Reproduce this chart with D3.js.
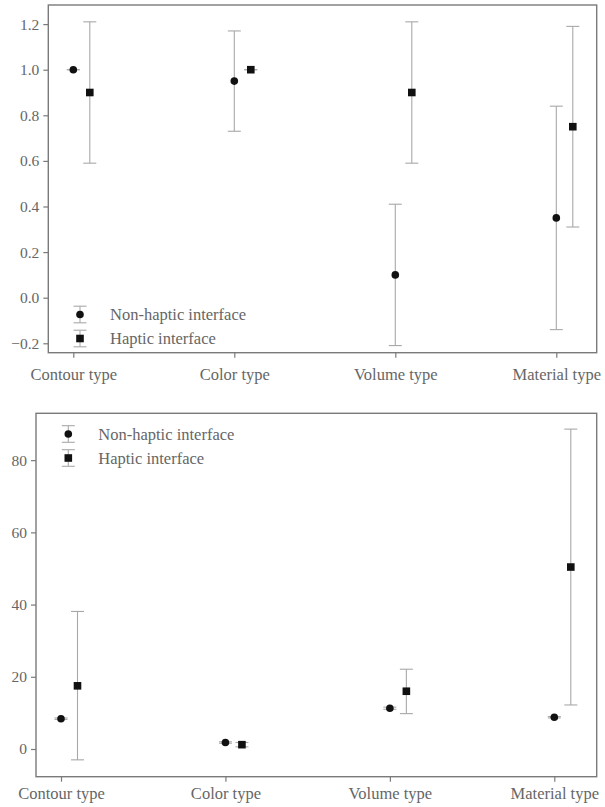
<!DOCTYPE html>
<html>
<head>
<meta charset="utf-8">
<script src="https://cdn.jsdelivr.net/npm/d3@7"></script>
<style>
  body { margin: 0; background: #fff; }
  svg text { font-family: "Liberation Serif", "Times New Roman", "DejaVu Serif", serif; fill: #666; }
</style>
</head>
<body>
<svg id="chart" width="605" height="807"></svg>
<script>
// categories shared by both panels
const categories = ["Contour type", "Color type", "Volume type", "Material type"];
const seriesNames = ["Non-haptic interface", "Haptic interface"];

// top panel: mean, lower, upper
const topNonHaptic = [1.0, 0.95, 0.10, 0.35];
const topNonHapticLow = [1.0, 0.73, -0.21, -0.14];
const topNonHapticHigh = [1.0, 1.17, 0.41, 0.84];
const topHaptic = [0.90, 1.0, 0.90, 0.75];
const topHapticLow = [0.59, 1.0, 0.59, 0.31];
const topHapticHigh = [1.21, 1.0, 1.21, 1.19];
const topTicks = [-0.2, 0.0, 0.2, 0.4, 0.6, 0.8, 1.0, 1.2];

// bottom panel
const botNonHaptic = [8.4, 1.8, 11.3, 8.8];
const botNonHapticLow = [8.2, 1.6, 11.0, 8.6];
const botNonHapticHigh = [8.6, 2.0, 11.6, 9.0];
const botHaptic = [17.5, 1.2, 16.0, 50.4];
const botHapticLow = [-3.0, 0.6, 9.8, 12.2];
const botHapticHigh = [38.1, 1.8, 22.1, 88.6];
const botTicks = [0, 20, 40, 60, 80];

const svg = d3.select("#chart");
const barColor = "#a8a8a8";
const frameColor = "#7a7a7a";
const serif = "'Liberation Serif', 'Times New Roman', serif";

function drawPanel(p) {
    const g = svg.append("g");
    const x = d3.scalePoint().domain(categories).range([p.x0, p.x1]);
    const y = d3.scaleLinear().domain(p.yDomain).range([p.bottom, p.top]);

    // frame
    g.append("rect")
        .attr("x", p.left).attr("y", p.top)
        .attr("width", p.right - p.left).attr("height", p.bottom - p.top)
        .attr("fill", "none").attr("stroke", frameColor).attr("stroke-width", 1.4);

    // y axis
    const yAxis = g.append("g").attr("transform", "translate(" + p.left + ",0)")
        .call(d3.axisLeft(y).tickValues(p.ticks).tickSize(5).tickPadding(4)
            .tickFormat(p.fmt));
    yAxis.attr("font-family", null).attr("font-size", null);
    yAxis.select(".domain").remove();
    yAxis.selectAll("line").attr("stroke", frameColor).attr("stroke-width", 1.2);
    yAxis.selectAll("text").style("font-size", "15.5px").attr("fill", "#6a6a6a")
        .style("font-family", serif);

    // x axis
    const xAxis = g.append("g").attr("transform", "translate(0," + p.bottom + ")")
        .call(d3.axisBottom(x).tickSize(5).tickPadding(p.xPad));
    xAxis.attr("font-family", null).attr("font-size", null);
    xAxis.select(".domain").remove();
    xAxis.selectAll("line").attr("stroke", frameColor).attr("stroke-width", 1.2);
    xAxis.selectAll("text").style("font-size", "16.5px").attr("fill", "#6a6a6a")
        .style("font-family", serif);

    const series = [
        { mean: p.s1, lo: p.s1lo, hi: p.s1hi, dx: 0, shape: "circle" },
        { mean: p.s2, lo: p.s2lo, hi: p.s2hi, dx: 16.5, shape: "square" }
    ];

    series.forEach(function (s) {
        categories.forEach(function (c, i) {
            const cx = x(c) + s.dx;
            const eg = g.append("g").attr("stroke", barColor).attr("stroke-width", 1.1);
            eg.append("line").attr("x1", cx).attr("x2", cx)
                .attr("y1", y(s.lo[i])).attr("y2", y(s.hi[i]));
            eg.append("line").attr("x1", cx - 6.5).attr("x2", cx + 6.5)
                .attr("y1", y(s.lo[i])).attr("y2", y(s.lo[i]));
            eg.append("line").attr("x1", cx - 6.5).attr("x2", cx + 6.5)
                .attr("y1", y(s.hi[i])).attr("y2", y(s.hi[i]));
            if (s.shape === "circle") {
                g.append("circle").attr("cx", cx).attr("cy", y(s.mean[i])).attr("r", 3.8).attr("fill", "#111");
            } else {
                g.append("rect").attr("x", cx - 3.8).attr("y", y(s.mean[i]) - 3.8)
                    .attr("width", 7.6).attr("height", 7.6).attr("fill", "#111");
            }
        });
    });

    // legend
    seriesNames.forEach(function (name, i) {
        const ly = p.legY + i * 24;
        const lx = p.legX;
        const lg = g.append("g").attr("stroke", barColor).attr("stroke-width", 1.1);
        lg.append("line").attr("x1", lx).attr("x2", lx).attr("y1", ly - 8.3).attr("y2", ly + 8.3);
        lg.append("line").attr("x1", lx - 6.5).attr("x2", lx + 6.5).attr("y1", ly - 8.3).attr("y2", ly - 8.3);
        lg.append("line").attr("x1", lx - 6.5).attr("x2", lx + 6.5).attr("y1", ly + 8.3).attr("y2", ly + 8.3);
        if (i === 0) {
            g.append("circle").attr("cx", lx).attr("cy", ly).attr("r", 3.8).attr("fill", "#111");
        } else {
            g.append("rect").attr("x", lx - 3.8).attr("y", ly - 3.8).attr("width", 7.6).attr("height", 7.6).attr("fill", "#111");
        }
        g.append("text").attr("x", p.legTextX).attr("y", ly + 5.5)
            .style("font-family", serif).style("font-size", "16.5px").attr("fill", "#6a6a6a")
            .text(name);
    });
}

drawPanel({
    left: 48.3, right: 596.7, top: 5, bottom: 352.7,
    x0: 73.3, x1: 556.3, xPad: 11,
    yDomain: [-0.2413, 1.2838], ticks: topTicks, fmt: d3.format(".1f"),
    s1: topNonHaptic, s1lo: topNonHapticLow, s1hi: topNonHapticHigh,
    s2: topHaptic, s2lo: topHapticLow, s2hi: topHapticHigh,
    legX: 80, legY: 314.5, legTextX: 110
});

drawPanel({
    left: 36, right: 596.7, top: 413.3, bottom: 776.7,
    x0: 61, x1: 554.3, xPad: 6,
    yDomain: [-7.67, 92.98], ticks: botTicks, fmt: d3.format("d"),
    s1: botNonHaptic, s1lo: botNonHapticLow, s1hi: botNonHapticHigh,
    s2: botHaptic, s2lo: botHapticLow, s2hi: botHapticHigh,
    legX: 68.3, legY: 434, legTextX: 98.3
});
</script>
</body>
</html>
